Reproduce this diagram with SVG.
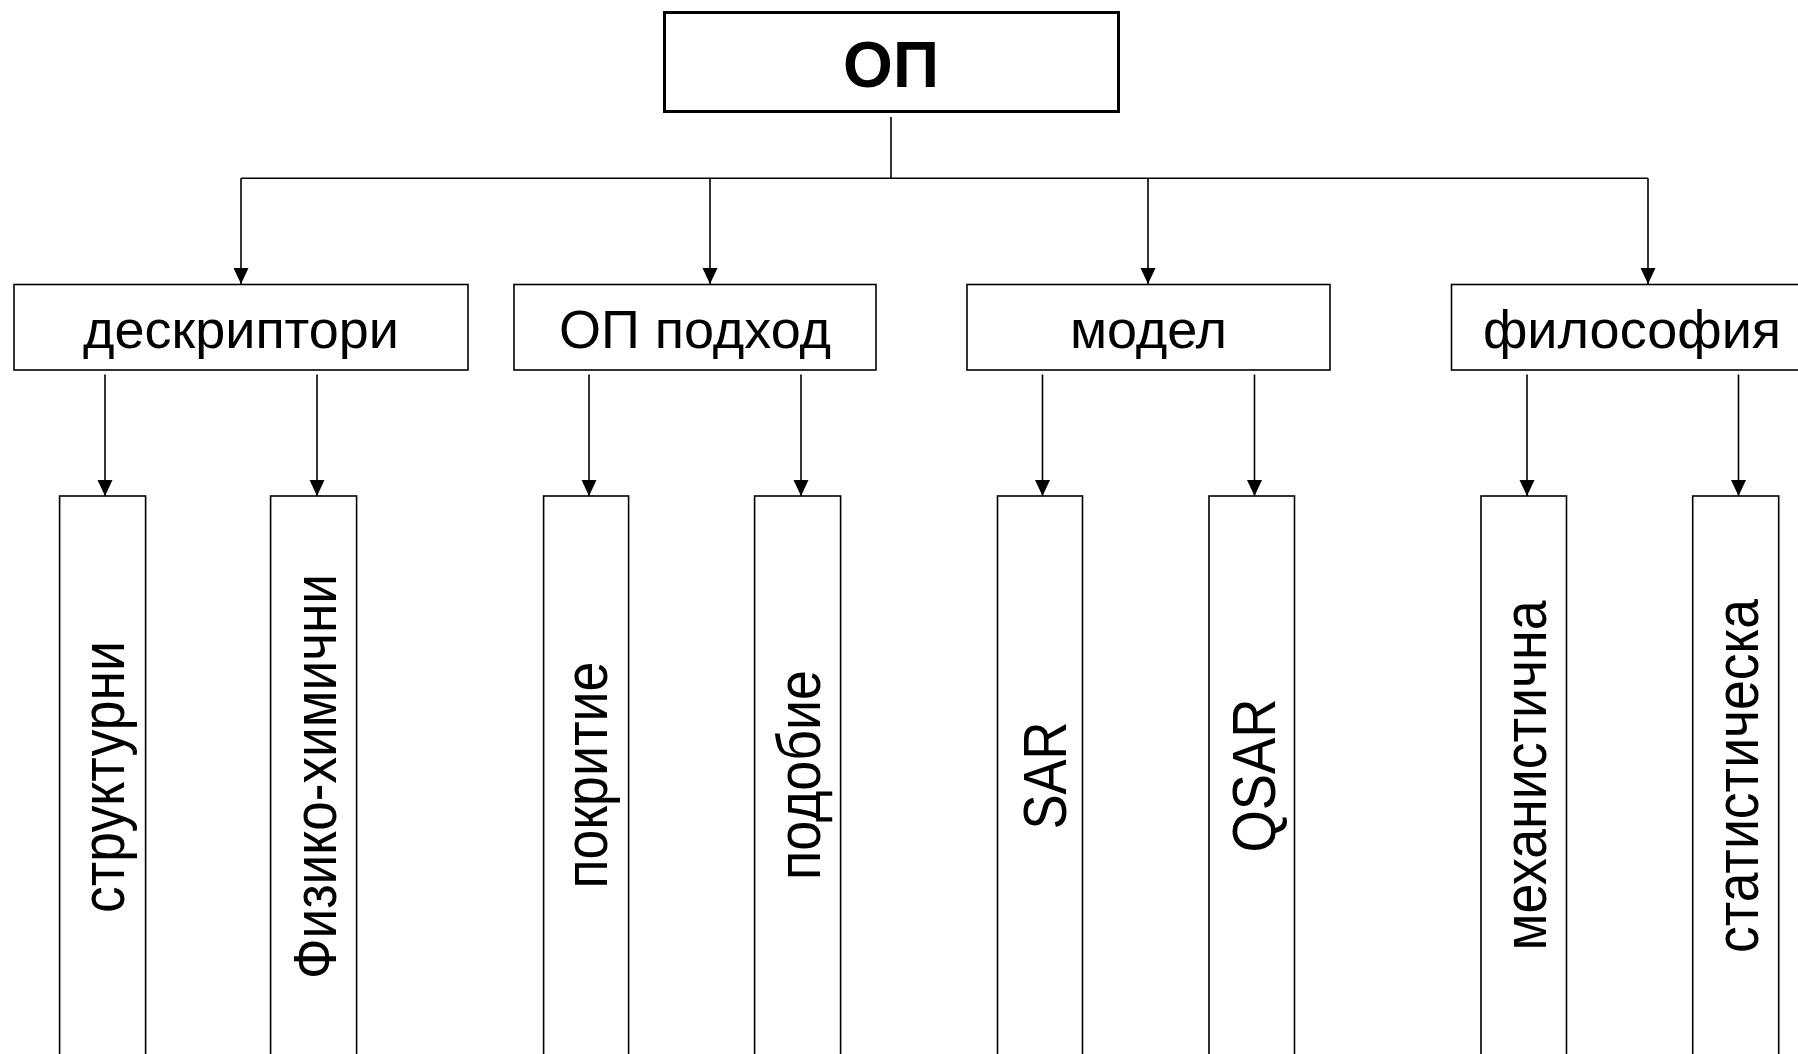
<svg xmlns="http://www.w3.org/2000/svg" width="1798" height="1054" viewBox="0 0 1798 1054">
<style>
.box{fill:#fff;stroke:#000;stroke-width:1.6}
.top{fill:#fff;stroke:#000;stroke-width:3}
.ln{fill:none;stroke:#000;stroke-width:1.6}
.t{font-family:"Liberation Sans",Arial,sans-serif;fill:#000;text-anchor:middle}
.l2{font-size:54px}
.l3{font-size:61px}
.l1{font-size:64px;font-weight:bold}
</style>
<defs>
<marker id="ah" markerUnits="userSpaceOnUse" markerWidth="16" markerHeight="16" viewBox="0 0 16 16" refX="16" refY="8" orient="auto">
<path d="M0,0.5 L16,8 L0,15.5 Z" fill="#000"/>
</marker>
</defs>
<rect width="1798" height="1054" fill="#fff"/>
<g id="connectors">
<path class="ln" d="M891,117 V178.3 M241,178.3 H1648"/>
<path class="ln" marker-end="url(#ah)" d="M241,178.3 V284"/>
<path class="ln" marker-end="url(#ah)" d="M710,178.3 V284"/>
<path class="ln" marker-end="url(#ah)" d="M1148,178.3 V284"/>
<path class="ln" marker-end="url(#ah)" d="M1648,178.3 V284"/>
<path class="ln" marker-end="url(#ah)" d="M105,374.5 V496"/>
<path class="ln" marker-end="url(#ah)" d="M317,374.5 V496"/>
<path class="ln" marker-end="url(#ah)" d="M589,374.5 V496"/>
<path class="ln" marker-end="url(#ah)" d="M801,374.5 V496"/>
<path class="ln" marker-end="url(#ah)" d="M1042.5,374.5 V496"/>
<path class="ln" marker-end="url(#ah)" d="M1254.5,374.5 V496"/>
<path class="ln" marker-end="url(#ah)" d="M1527,374.5 V496"/>
<path class="ln" marker-end="url(#ah)" d="M1738.5,374.5 V496"/>
</g>
<g id="n-op">
<rect class="top" x="664.5" y="12.5" width="454" height="99"/>
<text class="t l1" x="891" y="86.5">ОП</text>
</g>
<g id="n-deskriptori">
<rect class="box" x="14" y="284.5" width="454" height="85.5"/>
<text class="t l2" x="241" y="347.5">дескриптори</text>
</g>
<g id="n-op-podhod">
<rect class="box" x="514" y="284.5" width="362" height="85.5"/>
<text class="t l2" x="695" y="347.5">ОП подход</text>
</g>
<g id="n-model">
<rect class="box" x="967" y="284.5" width="363" height="85.5"/>
<text class="t l2" x="1148.5" y="347.5">модел</text>
</g>
<g id="n-filosofiya">
<rect class="box" x="1451.5" y="284.5" width="362" height="85.5"/>
<text class="t l2" x="1632" y="347.5">философия</text>
</g>
<g id="n-strukturni">
<rect class="box" x="59.6" y="496" width="86" height="600"/>
<text class="t l3" transform="translate(123.5,777) rotate(-90)" textLength="272" lengthAdjust="spacingAndGlyphs">структурни</text>
</g>
<g id="n-fiziko">
<rect class="box" x="270.6" y="496" width="86" height="600"/>
<text class="t l3" transform="translate(336,776.5) rotate(-90)" textLength="405" lengthAdjust="spacingAndGlyphs">Физико-химични</text>
</g>
<g id="n-pokritie">
<rect class="box" x="543.6" y="496" width="85" height="600"/>
<text class="t l3" transform="translate(607.3,775) rotate(-90)" textLength="227" lengthAdjust="spacingAndGlyphs">покритие</text>
</g>
<g id="n-podobie">
<rect class="box" x="754.6" y="496" width="86" height="600"/>
<text class="t l3" transform="translate(820,775) rotate(-90)" textLength="210" lengthAdjust="spacingAndGlyphs">подобие</text>
</g>
<g id="n-sar">
<rect class="box" x="997.5" y="496" width="85" height="600"/>
<text class="t l3" transform="translate(1065.5,775.5) rotate(-90)" textLength="108" lengthAdjust="spacingAndGlyphs">SAR</text>
</g>
<g id="n-qsar">
<rect class="box" x="1209" y="496" width="85.5" height="600"/>
<text class="t l3" transform="translate(1275,775.5) rotate(-90)" textLength="154" lengthAdjust="spacingAndGlyphs">QSAR</text>
</g>
<g id="n-mehanistichna">
<rect class="box" x="1481" y="496" width="85.5" height="600"/>
<text class="t l3" transform="translate(1546,775.5) rotate(-90)" textLength="350" lengthAdjust="spacingAndGlyphs">механистична</text>
</g>
<g id="n-statisticheska">
<rect class="box" x="1692.7" y="496" width="86" height="600"/>
<text class="t l3" transform="translate(1758,776) rotate(-90)" textLength="354" lengthAdjust="spacingAndGlyphs">статистическа</text>
</g>
</svg>
